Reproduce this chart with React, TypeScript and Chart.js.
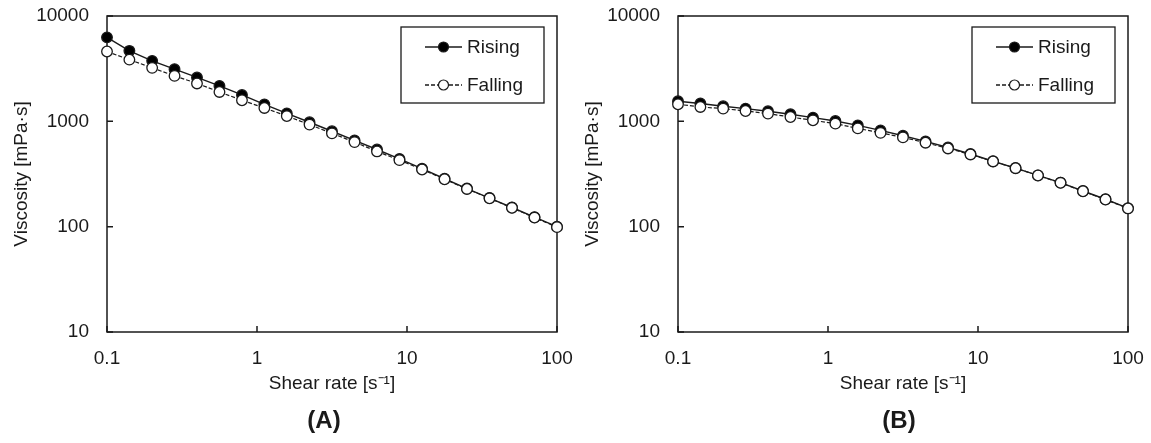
import React, { useEffect, useRef } from "react";
import { Chart, registerables } from "chart.js";

Chart.register(...registerables);

// ---- data ----
const shearRate = [0.1, 0.141, 0.2, 0.282, 0.398, 0.562, 0.794, 1.12, 1.58, 2.24, 3.16, 4.47, 6.31, 8.91, 12.6, 17.8, 25.1, 35.5, 50.1, 70.8, 100];
const risingA = [6270, 4670, 3750, 3130, 2610, 2170, 1780, 1450, 1190, 980, 805, 660, 540, 440, 355, 285, 230, 187, 152, 123, 100];
const fallingA = [4600, 3850, 3220, 2700, 2290, 1900, 1585, 1340, 1122, 931, 769, 635, 518, 428, 349, 282, 228, 186, 151, 122, 99];
const risingB = [1550, 1475, 1390, 1321, 1245, 1166, 1085, 1007, 916, 820, 730, 645, 565, 490, 418, 360, 307, 262, 218, 182, 150];
const fallingB = [1452, 1369, 1321, 1254, 1184, 1099, 1023, 951, 857, 777, 704, 627, 553, 485, 416, 359, 306, 261, 217, 181, 149];
const xTicks = [0.1, 1, 10, 100];
const xTickLabels = ["0.1", "1", "10", "100"];
const yTicks = [10, 100, 1000, 10000];
const yTickLabels = ["10", "100", "1000", "10000"];
const seriesNames = ["Rising", "Falling"];
const panelLabels = ["(A)", "(B)"];
const xTitle = "Shear rate [s\u207B\u00B9]";
const yTitle = "Viscosity [mPa\u00B7s]";

const FONT = "'Liberation Sans', Arial, sans-serif";
const INK = "#1a1a1a";

const framePlugin = {
  id: "frame",
  beforeDatasetsDraw(chart: any) {
    const { ctx, chartArea: a, scales } = chart;
    ctx.save();
    ctx.strokeStyle = INK;
    ctx.lineWidth = 1.5;
    ctx.strokeRect(a.left, a.top, a.right - a.left, a.bottom - a.top);
    ctx.beginPath();
    yTicks.forEach((v) => {
      const y = scales.y.getPixelForValue(v);
      ctx.moveTo(a.left, y);
      ctx.lineTo(a.left + 6, y);
    });
    xTicks.forEach((v) => {
      const x = scales.x.getPixelForValue(v);
      ctx.moveTo(x, a.bottom);
      ctx.lineTo(x, a.bottom - 6);
    });
    ctx.stroke();
    ctx.restore();
  },
  afterDraw(chart: any) {
    const { ctx, chartArea: a } = chart;
    const w = 143;
    const h = 76;
    const right = a.right - 13;
    const top = a.top + 11;
    const left = right - w;
    ctx.save();
    ctx.fillStyle = "#fff";
    ctx.fillRect(left, top, w, h);
    ctx.strokeStyle = INK;
    ctx.lineWidth = 1.3;
    ctx.strokeRect(left, top, w, h);
    seriesNames.forEach((name, i) => {
      const ds = chart.data.datasets.find((d: any) => d.label === name);
      const y = top + 20 + i * 38;
      const x0 = left + 24;
      const x1 = left + 61;
      ctx.strokeStyle = INK;
      ctx.lineWidth = 1.3;
      ctx.setLineDash(ds.borderDash || []);
      ctx.beginPath();
      ctx.moveTo(x0, y);
      ctx.lineTo(x1, y);
      ctx.stroke();
      ctx.setLineDash([]);
      ctx.beginPath();
      ctx.arc((x0 + x1) / 2, y, 5, 0, Math.PI * 2);
      ctx.fillStyle = ds.pointBackgroundColor;
      ctx.fill();
      ctx.lineWidth = 1.2;
      ctx.stroke();
      ctx.fillStyle = INK;
      ctx.font = `19px ${FONT}`;
      ctx.textAlign = "left";
      ctx.textBaseline = "middle";
      ctx.fillText(name, left + 66, y + 1);
    });
    ctx.restore();
  },
};

function Panel({ rising, falling, left, width }: { rising: number[]; falling: number[]; left: number; width: number }) {
  const ref = useRef<HTMLCanvasElement | null>(null);
  useEffect(() => {
    if (!ref.current) return;
    const chart = new Chart(ref.current, {
      type: "line",
      data: {
        datasets: [
          {
            label: seriesNames[0],
            data: shearRate.map((x, i) => ({ x, y: rising[i] })),
            borderColor: INK,
            borderWidth: 1.4,
            pointBackgroundColor: "#000",
            pointBorderColor: INK,
            pointBorderWidth: 1.3,
            pointRadius: 5.3,
            order: 1,
            clip: false as any,
          },
          {
            label: seriesNames[1],
            data: shearRate.map((x, i) => ({ x, y: falling[i] })),
            borderColor: INK,
            borderWidth: 1.2,
            borderDash: [4, 2],
            pointBackgroundColor: "#fff",
            pointBorderColor: INK,
            pointBorderWidth: 1.3,
            pointRadius: 5.3,
            order: 0,
            clip: false as any,
          },
        ],
      },
      options: {
        animation: false,
        responsive: false,
        devicePixelRatio: 1,
        layout: { padding: { left: 0, top: 16, right: width - 557, bottom: 0 } },
        plugins: { legend: { display: false }, tooltip: { enabled: false } },
        scales: {
          x: {
            type: "logarithmic",
            min: 0.1,
            max: 100,
            grid: { display: false, drawTicks: false },
            border: { display: false },
            afterBuildTicks: (s: any) => {
              s.ticks = xTicks.map((v) => ({ value: v }));
            },
            afterFit: (s: any) => {
              s.height = 111;
              s.paddingLeft = 0;
              s.paddingRight = 0;
            },
            ticks: {
              autoSkip: false,
              maxRotation: 0,
              padding: 15,
              color: INK,
              font: { family: FONT, size: 19 },
              callback: (v: any) => {
                const i = xTicks.indexOf(Number(v));
                return i >= 0 ? xTickLabels[i] : "";
              },
            },
            title: {
              display: true,
              text: xTitle,
              color: INK,
              font: { family: FONT, size: 19 },
              padding: { top: 0, bottom: 48 },
            },
          },
          y: {
            type: "logarithmic",
            min: 10,
            max: 10000,
            grid: { display: false, drawTicks: false },
            border: { display: false },
            afterBuildTicks: (s: any) => {
              s.ticks = yTicks.map((v) => ({ value: v }));
            },
            afterFit: (s: any) => {
              s.width = 107;
              s.paddingTop = 0;
              s.paddingBottom = 0;
            },
            ticks: {
              autoSkip: false,
              padding: 18,
              color: INK,
              font: { family: FONT, size: 19 },
              callback: (v: any) => {
                const i = yTicks.indexOf(Number(v));
                return i >= 0 ? yTickLabels[i] : "";
              },
            },
            title: {
              display: true,
              text: yTitle,
              color: INK,
              font: { family: FONT, size: 19 },
              padding: { top: 10, bottom: 0 },
            },
          },
        },
      },
      plugins: [framePlugin],
    } as any);
    return () => chart.destroy();
  }, [rising, falling, width]);
  return (
    <canvas
      ref={ref}
      width={width}
      height={443}
      style={{ position: "absolute", left, top: 0, width, height: 443 }}
    />
  );
}

export default function App() {
  const labelStyle = (cx: number): React.CSSProperties => ({
    position: "absolute",
    left: cx,
    top: 420,
    transform: "translate(-50%, -50%)",
    font: `bold 24px ${FONT}`,
    color: INK,
    whiteSpace: "nowrap",
  });
  return (
    <div style={{ position: "fixed", left: 0, top: 0, width: 1151, height: 443, background: "#fff", overflow: "hidden" }}>
      <Panel rising={risingA} falling={fallingA} left={0} width={575} />
      <Panel rising={risingB} falling={fallingB} left={571} width={580} />
      <div style={labelStyle(324)}>{panelLabels[0]}</div>
      <div style={labelStyle(899)}>{panelLabels[1]}</div>
    </div>
  );
}
